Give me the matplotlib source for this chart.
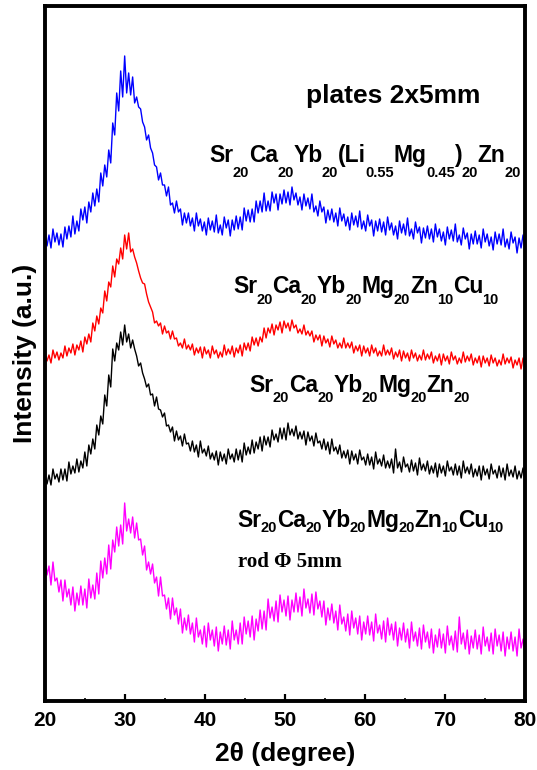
import numpy as np
import matplotlib
matplotlib.use('Agg')
import matplotlib.pyplot as plt
from matplotlib.ticker import MultipleLocator
from matplotlib.transforms import offset_copy

plt.rcParams['font.family'] = ['Liberation Sans', 'DejaVu Sans']
plt.rcParams['font.weight'] = 'bold'

# XRD traces (a.u.), 2theta from 20 to 80 deg
blue_li = [468,455, 466,453, 472,459, 468,456, 467,454, 474,462, 475,464, 485,467, 480,470, 492,481,
           494,478, 499,489, 508,495, 512,499, 528,515, 536,524, 551,538, 578,566, 608,590, 630,604,
           645,608, 628,606, 624,598, 604,594, 592,579, 574,561, 566,553, 548,536, 534,521, 528,516,
           516,505, 514,496, 498,488, 500,489, 492,476, 488,478, 488,475, 483,470, 488,475, 482,470,
           479,466, 483,471, 480,469, 486,468, 476,466, 484,473, 481,465, 481,471, 485,472, 484,471,
           493,480, 491,479, 492,479, 500,488, 500,489, 508,490, 500,490, 509,498, 507,491, 507,497,
           511,498, 509,496, 514,501, 508,496, 504,491, 507,495, 503,492, 507,489, 495,485, 500,489,
           494,478, 491,481, 492,479, 488,475, 493,480, 487,475, 484,471, 488,476, 485,474, 490,472,
           480,470, 486,475, 481,465, 480,470, 482,469, 479,466, 484,471, 478,466, 475,462, 480,468,
           477,466, 483,465, 472,462, 479,468, 474,458, 473,463, 475,462, 472,459, 477,464, 472,460,
           469,456, 474,462, 471,460, 477,459, 466,456, 473,462, 468,452, 467,457, 470,457, 466,453,
           472,459, 467,455, 464,451, 469,457, 467,456, 472,454, 462,452, 469,458, 464,448, 463,453,
           466,453]

red_cu = [347,340, 346,338, 351,343, 349,341, 348,343, 355,345, 353,348, 357,346, 356,351, 360,349,
          364,357, 367,359, 378,370, 385,377, 393,388, 410,400, 419,414, 435,424, 442,437, 453,442,
          466,452, 468,449, 452,444, 438,430, 423,418, 417,407, 399,394, 389,378, 380,375, 378,367,
          375,368, 370,362, 370,362, 363,355, 358,353, 362,352, 356,351, 357,346, 353,348, 354,343,
          354,347, 351,343, 355,347, 351,343, 349,344, 356,346, 352,347, 355,344, 353,348, 356,345,
          358,351, 358,350, 364,356, 363,355, 364,359, 373,363, 373,368, 377,366, 376,371, 379,368,
          380,373, 378,370, 381,373, 376,368, 372,367, 376,366, 370,365, 370,359, 366,361, 366,355,
          365,358, 362,354, 365,357, 361,353, 358,353, 363,353, 358,353, 359,348, 355,350, 356,345,
          355,348, 353,345, 356,348, 353,345, 350,345, 356,346, 351,346, 353,342, 349,344, 351,340,
          350,343, 348,340, 351,343, 348,340, 346,341, 351,341, 347,342, 349,338, 345,340, 347,336,
          347,340, 345,337, 349,341, 345,337, 343,338, 349,339, 345,340, 347,336, 343,338, 345,334,
          345,338, 343,335, 346,338, 343,335, 341,336, 347,337, 343,338, 344,333, 341,336, 343,332,
          343,336]

black_zn = [226,217, 226,216, 232,222, 227,219, 232,221, 232,220, 239,227, 235,228, 242,229, 240,233,
            249,235, 256,247, 262,252, 276,266, 285,277, 306,295, 326,314, 352,340, 358,351, 369,356,
            376,359, 367,353, 361,352, 345,335, 338,328, 322,314, 317,306, 307,295, 304,292, 291,284,
            288,275, 276,269, 274,260, 270,261, 265,255, 267,257, 258,250, 260,249, 256,244, 260,248,
            252,245, 255,242, 248,241, 250,236, 249,240, 247,237, 252,242, 247,239, 252,241, 251,239,
            258,246, 254,247, 261,248, 259,252, 264,250, 265,256, 264,254, 271,261, 267,259, 273,262,
            273,261, 278,266, 272,265, 275,262, 269,262, 270,256, 269,260, 265,255, 268,258, 260,252,
            262,251, 259,247, 262,250, 254,247, 256,243, 250,243, 251,237, 250,241, 247,237, 251,241,
            244,236, 247,236, 244,232, 249,237, 242,235, 246,233, 240,233, 242,228, 252,233, 239,229,
            244,234, 237,229, 241,230, 238,226, 243,231, 237,230, 240,227, 235,228, 238,224, 237,228,
            235,225, 240,230, 234,226, 237,226, 235,223, 240,228, 234,227, 237,224, 232,225, 235,221,
            235,226, 232,222, 237,227, 231,223, 235,224, 233,221, 237,225, 231,224, 235,222, 230,223,
            233,219]

rod_cu = [145,126, 135,116, 139,120, 123,109, 121,100, 121,104, 112,96, 114,90, 108,96, 115,96,
          112,93, 122,103, 116,102, 128,107, 140,123, 143,127, 156,132, 161,149, 174,155, 176,157,
          198,170, 182,168, 184,163, 178,161, 162,146, 155,131, 139,127, 137,118, 124,105, 124,105,
          106,92, 103,82, 103,86, 93,77, 92,68, 83,71, 86,67, 78,59, 83,64, 71,57,
          75,54, 78,61, 71,55, 74,50, 69,57, 75,56, 71,52, 80,61, 71,57, 78,57,
          84,67, 80,64, 85,61, 82,70, 91,72, 90,71, 102,83, 94,80, 100,79, 106,89,
          101,85, 105,81, 101,89, 108,89, 104,85, 112,93, 102,88, 107,86, 109,92, 100,84,
          100,76, 93,81, 97,78, 90,71, 96,77, 84,70, 87,66, 90,73, 83,67, 85,61,
          79,67, 85,66, 79,60, 87,68, 76,62, 80,59, 83,66, 77,61, 79,55, 73,61,
          78,59, 72,53, 79,60, 69,55, 73,52, 76,59, 69,53, 72,48, 66,54, 72,53,
          67,48, 75,56, 65,51, 70,49, 84,57, 68,52, 71,47, 65,53, 71,52, 66,47,
          74,55, 64,50, 68,47, 72,55, 66,50, 69,45, 64,52, 69,50, 64,45, 72,53,
          62,48]

series = [(blue_li, 'blue'), (red_cu, 'red'), (black_zn, 'black'), (rod_cu, 'magenta')]

fig = plt.figure(figsize=(5.37, 7.70), dpi=100)
ax = fig.add_axes([0.0838, 0.0896, 0.8939, 0.902])

for vals, col in series:
    tt = np.linspace(20, 80, len(vals))
    ax.plot(tt, vals, color=col, lw=1.0)

ax.set_xlim(20, 80)
ax.set_ylim(0, 694.5)
ax.xaxis.set_major_locator(MultipleLocator(10))
ax.xaxis.set_minor_locator(MultipleLocator(5))
ax.tick_params(axis='x', which='major', direction='in', length=5, width=1.6,
               labelsize=15, pad=7)
ax.tick_params(axis='x', which='minor', direction='in', length=2.5, width=1.2)
ax.set_yticks([])
for sp in ax.spines.values():
    sp.set_linewidth(2.8)

ax.set_xlabel('2θ (degree)', fontsize=19, fontweight='bold', labelpad=9)
ax.set_ylabel('Intensity (a.u.)', fontsize=19, fontweight='bold', labelpad=6)

ax.text(52.6, 598, 'plates 2x5mm', fontsize=19, fontweight='bold', va='baseline')
ax.text(44.1, 134, 'rod Φ 5mm', fontsize=15, fontweight='bold', va='baseline',
        family=['Liberation Serif', 'DejaVu Serif'])

renderer = fig.canvas.get_renderer()


def formula(x, y, parts, drop, size=16.5, subsize=10.5):
    # write element symbols with subscripted amounts one after another
    dx = 0
    for main, sub in parts:
        tr = offset_copy(ax.transData, fig=fig, x=dx, y=0, units='dots')
        t = ax.text(x, y, main, fontsize=size, fontweight='bold', va='baseline', transform=tr)
        dx += t.get_window_extent(renderer).width - 1
        tr = offset_copy(ax.transData, fig=fig, x=dx, y=-drop, units='dots')
        t = ax.text(x, y, sub, fontsize=subsize, fontweight='bold', va='baseline', transform=tr)
        dx += t.get_window_extent(renderer).width


formula(40.6, 539, [('Sr', '20'), ('Ca', '20'), ('Yb', '20'), ('(Li', '0.55'),
                    ('Mg', '0.45'), (')', '20'), ('Zn', '20')], 15)
formula(43.5, 408, [('Sr', '20'), ('Ca', '20'), ('Yb', '20'), ('Mg', '20'),
                    ('Zn', '10'), ('Cu', '10')], 11)
formula(45.6, 309, [('Sr', '20'), ('Ca', '20'), ('Yb', '20'), ('Mg', '20'),
                    ('Zn', '20')], 10)
formula(44.1, 174, [('Sr', '20'), ('Ca', '20'), ('Yb', '20'), ('Mg', '20'),
                    ('Zn', '10'), ('Cu', '10')], 5)

fig.savefig('out.png', dpi=100)
